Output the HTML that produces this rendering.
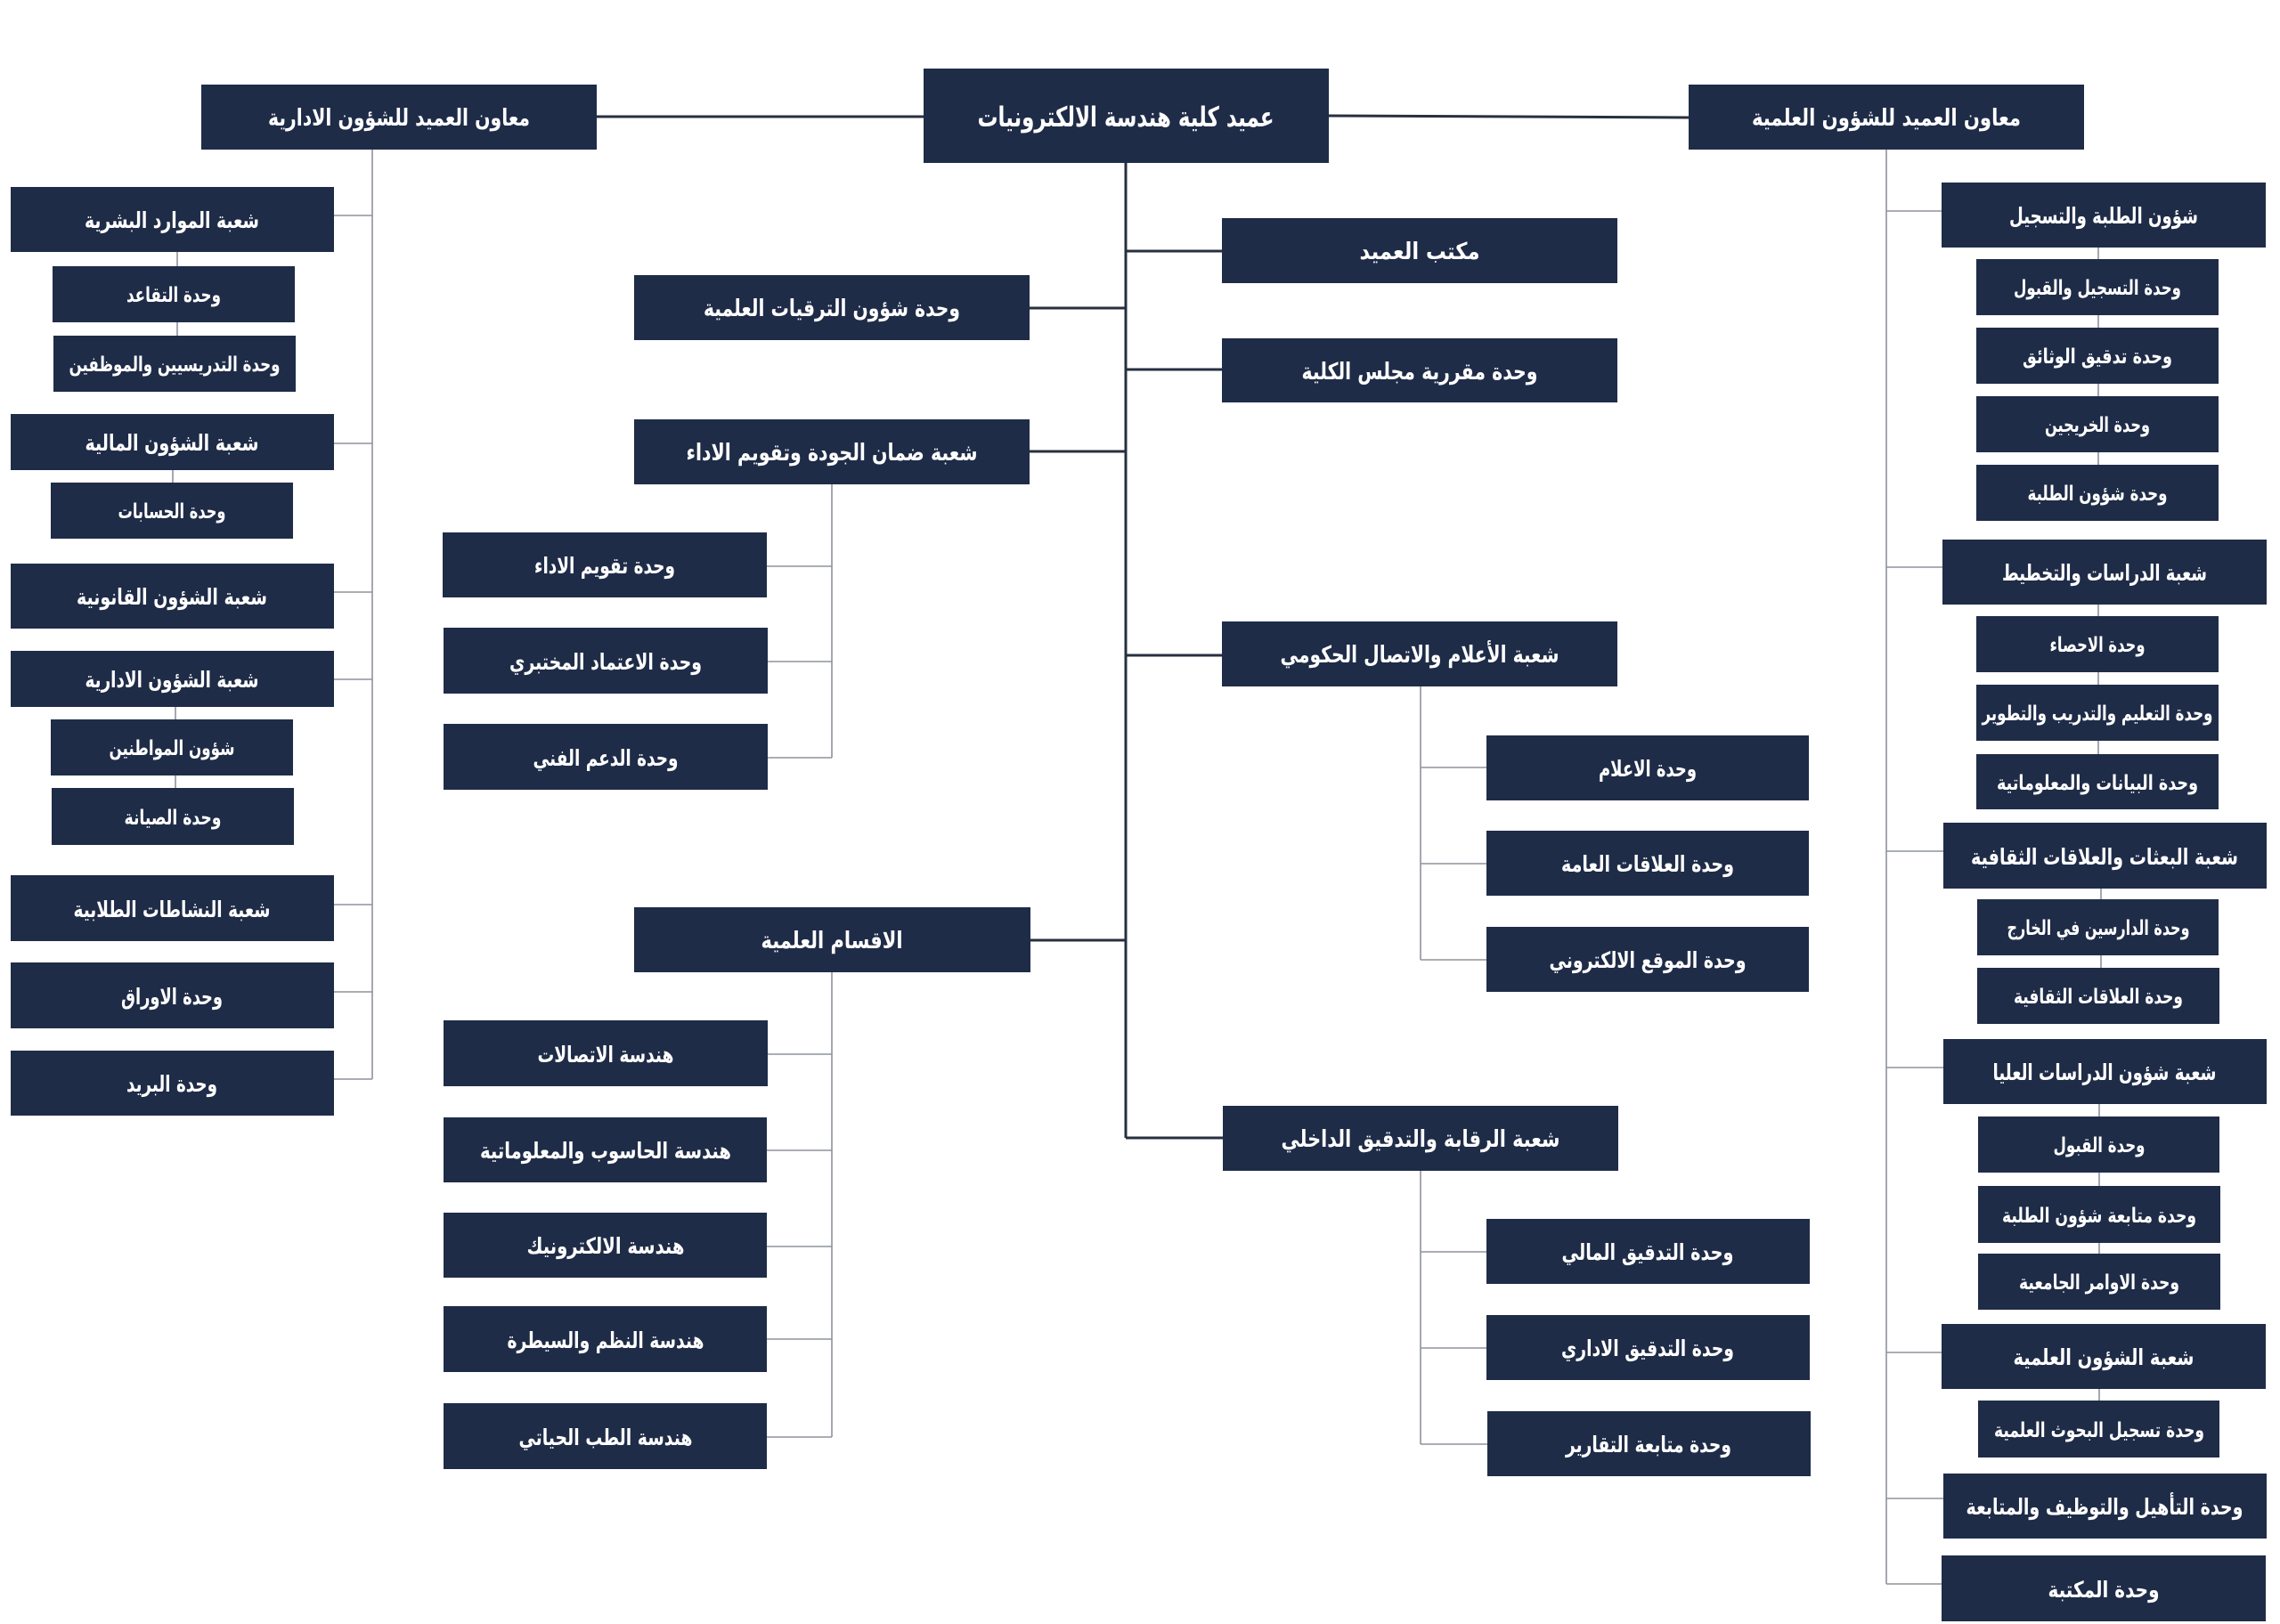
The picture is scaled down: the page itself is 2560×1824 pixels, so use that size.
<!DOCTYPE html>
<html><head><meta charset="utf-8"><style>
html,body{margin:0;padding:0;background:#fff;}
svg{display:block;}
text{font-family:"DejaVu Sans","Liberation Sans",sans-serif;font-weight:bold;fill:#fff;text-anchor:middle;}
.b{fill:#1f2c48;}
.d{stroke:#27303f;stroke-width:3;fill:none;}
.g{stroke:#8d939c;stroke-width:1.6;fill:none;}
</style></head><body>
<svg width="2560" height="1824" viewBox="0 0 2560 1824" xmlns="http://www.w3.org/2000/svg">
<path class="d" d="M670 131H1037 M1492 130L1896 132 M1264 183V1278 M1156 346H1264 M1156 507H1264 M1157 1056H1264 M1264 282H1373 M1264 415H1373 M1264 736H1373 M1264 1278H1373"/>
<path class="g" d="M418 168V1212 M375 242H418 M375 498H418 M375 665H418 M375 763H418 M375 1016H418 M375 1114H418 M375 1212H418
M199 283V377 M194 528V542 M197 794V885
M934 544V851 M860 636H934 M862 743H934 M862 851H934
M934 1092V1614 M862 1184H934 M861 1292H934 M861 1400H934 M861 1504H934 M861 1614H934
M1595 771V1078 M1595 862H1669 M1595 970H1669 M1595 1078H1669
M1595 1315V1622 M1595 1406H1669 M1595 1514H1669 M1595 1622H1670
M2118 168V1779 M2118 237H2180 M2118 637H2181 M2118 956H2182 M2118 1199H2182 M2118 1519H2180 M2118 1683H2182 M2118 1779H2180
M2356 278V522 M2356 679V847 M2359 998V1087 M2357 1240V1408 M2357 1560V1573"/>

<rect class="b" x="226" y="95" width="444" height="73"/><text x="448" y="141" font-size="26" textLength="294" lengthAdjust="spacingAndGlyphs">معاون العميد للشؤون الادارية</text>
<rect class="b" x="1037" y="77" width="455" height="106"/><text x="1264" y="142" font-size="31" textLength="333" lengthAdjust="spacingAndGlyphs">عميد كلية هندسة الالكترونيات</text>
<rect class="b" x="1896" y="95" width="444" height="73"/><text x="2118" y="141" font-size="26" textLength="302" lengthAdjust="spacingAndGlyphs">معاون العميد للشؤون العلمية</text>

<rect class="b" x="12" y="210" width="363" height="73"/><text x="193" y="256" font-size="25" textLength="196" lengthAdjust="spacingAndGlyphs">شعبة الموارد البشرية</text>
<rect class="b" x="59" y="299" width="272" height="63"/><text x="195" y="339" font-size="23" textLength="106" lengthAdjust="spacingAndGlyphs">وحدة التقاعد</text>
<rect class="b" x="60" y="377" width="272" height="63"/><text x="196" y="417" font-size="23" textLength="237" lengthAdjust="spacingAndGlyphs">وحدة التدريسيين والموظفين</text>
<rect class="b" x="12" y="465" width="363" height="63"/><text x="193" y="506" font-size="25" textLength="195" lengthAdjust="spacingAndGlyphs">شعبة الشؤون المالية</text>
<rect class="b" x="57" y="542" width="272" height="63"/><text x="193" y="582" font-size="23" textLength="121" lengthAdjust="spacingAndGlyphs">وحدة الحسابات</text>
<rect class="b" x="12" y="633" width="363" height="73"/><text x="193" y="679" font-size="25" textLength="214" lengthAdjust="spacingAndGlyphs">شعبة الشؤون القانونية</text>
<rect class="b" x="12" y="731" width="363" height="63"/><text x="193" y="772" font-size="25" textLength="195" lengthAdjust="spacingAndGlyphs">شعبة الشؤون الادارية</text>
<rect class="b" x="57" y="808" width="272" height="63"/><text x="193" y="848" font-size="23" textLength="141" lengthAdjust="spacingAndGlyphs">شؤون المواطنين</text>
<rect class="b" x="58" y="885" width="272" height="64"/><text x="194" y="926" font-size="23" textLength="109" lengthAdjust="spacingAndGlyphs">وحدة الصيانة</text>
<rect class="b" x="12" y="983" width="363" height="74"/><text x="193" y="1030" font-size="25" textLength="221" lengthAdjust="spacingAndGlyphs">شعبة النشاطات الطلابية</text>
<rect class="b" x="12" y="1081" width="363" height="74"/><text x="193" y="1128" font-size="25" textLength="114" lengthAdjust="spacingAndGlyphs">وحدة الاوراق</text>
<rect class="b" x="12" y="1180" width="363" height="73"/><text x="193" y="1226" font-size="25" textLength="102" lengthAdjust="spacingAndGlyphs">وحدة البريد</text>

<rect class="b" x="712" y="309" width="444" height="73"/><text x="934" y="355" font-size="26" textLength="288" lengthAdjust="spacingAndGlyphs">وحدة شؤون الترقيات العلمية</text>
<rect class="b" x="712" y="471" width="444" height="73"/><text x="934" y="517" font-size="26" textLength="327" lengthAdjust="spacingAndGlyphs">شعبة ضمان الجودة وتقويم الاداء</text>
<rect class="b" x="497" y="598" width="364" height="73"/><text x="679" y="644" font-size="25" textLength="158" lengthAdjust="spacingAndGlyphs">وحدة تقويم الاداء</text>
<rect class="b" x="498" y="705" width="364" height="74"/><text x="680" y="752" font-size="25" textLength="216" lengthAdjust="spacingAndGlyphs">وحدة الاعتماد المختبري</text>
<rect class="b" x="498" y="813" width="364" height="74"/><text x="680" y="860" font-size="25" textLength="163" lengthAdjust="spacingAndGlyphs">وحدة الدعم الفني</text>
<rect class="b" x="712" y="1019" width="445" height="73"/><text x="934" y="1065" font-size="26" textLength="159" lengthAdjust="spacingAndGlyphs">الاقسام العلمية</text>
<rect class="b" x="498" y="1146" width="364" height="74"/><text x="680" y="1193" font-size="25" textLength="153" lengthAdjust="spacingAndGlyphs">هندسة الاتصالات</text>
<rect class="b" x="498" y="1255" width="363" height="73"/><text x="680" y="1301" font-size="25" textLength="282" lengthAdjust="spacingAndGlyphs">هندسة الحاسوب والمعلوماتية</text>
<rect class="b" x="498" y="1362" width="363" height="73"/><text x="680" y="1408" font-size="25" textLength="177" lengthAdjust="spacingAndGlyphs">هندسة الالكترونيك</text>
<rect class="b" x="498" y="1467" width="363" height="74"/><text x="680" y="1514" font-size="25" textLength="221" lengthAdjust="spacingAndGlyphs">هندسة النظم والسيطرة</text>
<rect class="b" x="498" y="1576" width="363" height="74"/><text x="680" y="1623" font-size="25" textLength="195" lengthAdjust="spacingAndGlyphs">هندسة الطب الحياتي</text>

<rect class="b" x="1372" y="245" width="444" height="73"/><text x="1594" y="291" font-size="26" textLength="135" lengthAdjust="spacingAndGlyphs">مكتب العميد</text>
<rect class="b" x="1372" y="380" width="444" height="72"/><text x="1594" y="426" font-size="26" textLength="265" lengthAdjust="spacingAndGlyphs">وحدة مقررية مجلس الكلية</text>
<rect class="b" x="1372" y="698" width="444" height="73"/><text x="1594" y="744" font-size="26" textLength="313" lengthAdjust="spacingAndGlyphs">شعبة الأعلام والاتصال الحكومي</text>
<rect class="b" x="1669" y="826" width="362" height="73"/><text x="1850" y="872" font-size="25" textLength="110" lengthAdjust="spacingAndGlyphs">وحدة الاعلام</text>
<rect class="b" x="1669" y="933" width="362" height="73"/><text x="1850" y="979" font-size="25" textLength="194" lengthAdjust="spacingAndGlyphs">وحدة العلاقات العامة</text>
<rect class="b" x="1669" y="1041" width="362" height="73"/><text x="1850" y="1087" font-size="25" textLength="221" lengthAdjust="spacingAndGlyphs">وحدة الموقع الالكتروني</text>
<rect class="b" x="1373" y="1242" width="444" height="73"/><text x="1595" y="1288" font-size="26" textLength="313" lengthAdjust="spacingAndGlyphs">شعبة الرقابة والتدقيق الداخلي</text>
<rect class="b" x="1669" y="1369" width="363" height="73"/><text x="1850" y="1415" font-size="25" textLength="193" lengthAdjust="spacingAndGlyphs">وحدة التدقيق المالي</text>
<rect class="b" x="1669" y="1477" width="363" height="73"/><text x="1850" y="1523" font-size="25" textLength="194" lengthAdjust="spacingAndGlyphs">وحدة التدقيق الاداري</text>
<rect class="b" x="1670" y="1585" width="363" height="73"/><text x="1851" y="1631" font-size="25" textLength="186" lengthAdjust="spacingAndGlyphs">وحدة متابعة التقارير</text>

<rect class="b" x="2180" y="205" width="364" height="73"/><text x="2362" y="251" font-size="25" textLength="212" lengthAdjust="spacingAndGlyphs">شؤون الطلبة والتسجيل</text>
<rect class="b" x="2219" y="291" width="272" height="63"/><text x="2355" y="331" font-size="23" textLength="188" lengthAdjust="spacingAndGlyphs">وحدة التسجيل والقبول</text>
<rect class="b" x="2219" y="368" width="272" height="63"/><text x="2355" y="408" font-size="23" textLength="168" lengthAdjust="spacingAndGlyphs">وحدة تدقيق الوثائق</text>
<rect class="b" x="2219" y="445" width="272" height="63"/><text x="2355" y="485" font-size="23" textLength="118" lengthAdjust="spacingAndGlyphs">وحدة الخريجين</text>
<rect class="b" x="2219" y="522" width="272" height="63"/><text x="2355" y="562" font-size="23" textLength="157" lengthAdjust="spacingAndGlyphs">وحدة شؤون الطلبة</text>
<rect class="b" x="2181" y="606" width="364" height="73"/><text x="2363" y="652" font-size="25" textLength="230" lengthAdjust="spacingAndGlyphs">شعبة الدراسات والتخطيط</text>
<rect class="b" x="2219" y="692" width="272" height="63"/><text x="2355" y="732" font-size="23" textLength="107" lengthAdjust="spacingAndGlyphs">وحدة الاحصاء</text>
<rect class="b" x="2219" y="769" width="272" height="63"/><text x="2355" y="809" font-size="23" textLength="259" lengthAdjust="spacingAndGlyphs">وحدة التعليم والتدريب والتطوير</text>
<rect class="b" x="2219" y="847" width="272" height="62"/><text x="2355" y="887" font-size="23" textLength="226" lengthAdjust="spacingAndGlyphs">وحدة البيانات والمعلوماتية</text>
<rect class="b" x="2182" y="924" width="363" height="74"/><text x="2363" y="971" font-size="25" textLength="300" lengthAdjust="spacingAndGlyphs">شعبة البعثات والعلاقات الثقافية</text>
<rect class="b" x="2220" y="1010" width="271" height="63"/><text x="2356" y="1050" font-size="23" textLength="205" lengthAdjust="spacingAndGlyphs">وحدة الدارسين في الخارج</text>
<rect class="b" x="2220" y="1087" width="272" height="63"/><text x="2356" y="1127" font-size="23" textLength="190" lengthAdjust="spacingAndGlyphs">وحدة العلاقات الثقافية</text>
<rect class="b" x="2182" y="1167" width="363" height="73"/><text x="2363" y="1213" font-size="25" textLength="251" lengthAdjust="spacingAndGlyphs">شعبة شؤون الدراسات العليا</text>
<rect class="b" x="2221" y="1254" width="271" height="63"/><text x="2357" y="1294" font-size="23" textLength="103" lengthAdjust="spacingAndGlyphs">وحدة القبول</text>
<rect class="b" x="2221" y="1332" width="272" height="64"/><text x="2357" y="1373" font-size="23" textLength="218" lengthAdjust="spacingAndGlyphs">وحدة متابعة شؤون الطلبة</text>
<rect class="b" x="2221" y="1408" width="272" height="63"/><text x="2357" y="1448" font-size="23" textLength="180" lengthAdjust="spacingAndGlyphs">وحدة الاوامر الجامعية</text>
<rect class="b" x="2180" y="1487" width="364" height="73"/><text x="2362" y="1533" font-size="25" textLength="203" lengthAdjust="spacingAndGlyphs">شعبة الشؤون العلمية</text>
<rect class="b" x="2221" y="1573" width="271" height="64"/><text x="2357" y="1614" font-size="23" textLength="236" lengthAdjust="spacingAndGlyphs">وحدة تسجيل البحوث العلمية</text>
<rect class="b" x="2182" y="1655" width="363" height="73"/><text x="2363" y="1701" font-size="25" textLength="311" lengthAdjust="spacingAndGlyphs">وحدة التأهيل والتوظيف والمتابعة</text>
<rect class="b" x="2180" y="1747" width="364" height="74"/><text x="2362" y="1794" font-size="25" textLength="125" lengthAdjust="spacingAndGlyphs">وحدة المكتبة</text>
</svg>
</body></html>
